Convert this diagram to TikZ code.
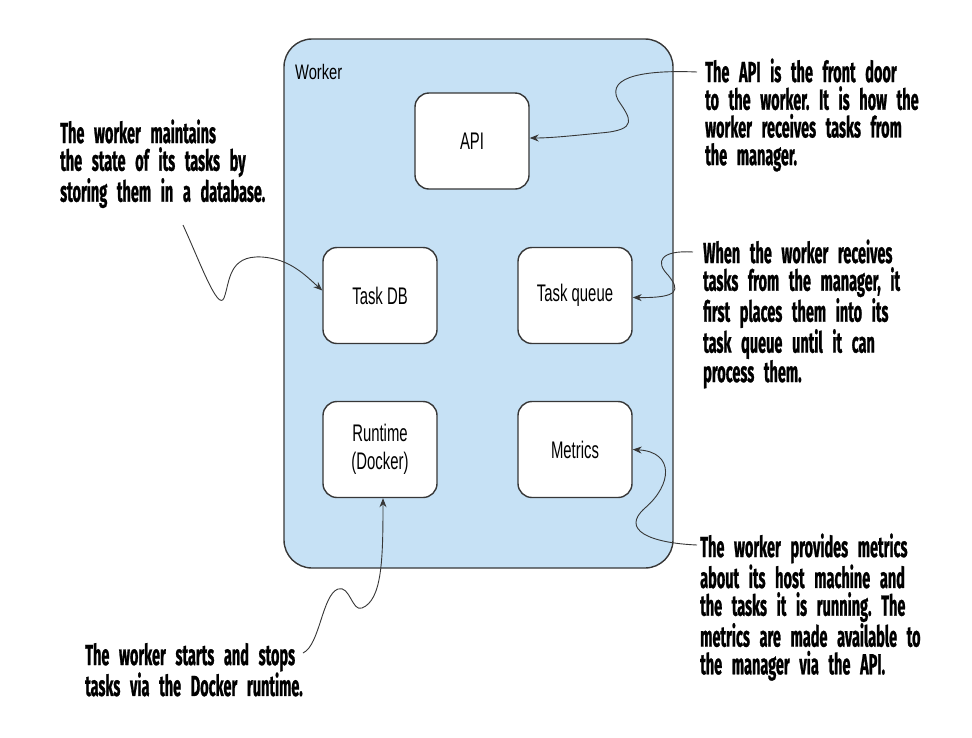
\documentclass[tikz,border=0pt]{standalone}
\usepackage{fontspec}
\newfontfamily\notefont[FakeStretch=0.5,FakeBold=0.8]{Fira Sans}
\newfontfamily\partfont[FakeStretch=0.62]{Liberation Sans}
\newfontfamily\framefont[FakeStretch=0.7]{Liberation Sans}
\newcommand\notespacing{\frenchspacing\spaceskip=5.5pt plus 1pt minus 1pt\relax}
\usetikzlibrary{shapes}
\usetikzlibrary{positioning}
\usetikzlibrary{arrows.meta}
\definecolor{workerblue}{RGB}{198,225,245}
\definecolor{edgegray}{RGB}{55,55,55}

\begin{document}
\begin{tikzpicture}[x=1pt,y=-1pt,>={Stealth[length=9pt,width=7pt]},
	part node/.style={rectangle,rounded corners=14pt,draw=edgegray,line width=1.4pt,fill=white,align=center,minimum width=114pt,minimum height=96pt,inner sep=0pt,font=\partfont\fontsize{24}{28}\selectfont},
	note node/.style={anchor=base west,inner sep=0pt,text width=260pt,align=left,font=\notefont\bfseries\fontsize{29}{27.7}\selectfont\notespacing},
	callout/.style={->,draw=edgegray,line width=0.9pt}]
		
		\useasboundingbox (0,0) rectangle (972,737);
		
		% worker frame
		\draw[fill=workerblue,draw=edgegray,line width=1.4pt,rounded corners=28pt] (284,39) rectangle (673,568);
		\node[anchor=base west,inner sep=0pt,font=\framefont\fontsize{21}{24}\selectfont] at (295,79) (worker) {Worker};
		
		\node[part node] at (472,141) (api) {API};
		\node[part node] at (380,295.5) (taskdb) {Task DB};
		\node[part node] at (575,295.5) (queue) {Task queue};
		\node[part node] at (380,449.5) (runtime) {Runtime\\(Docker)};
		\node[part node] at (575,449.5) (metrics) {Metrics};
		
		\node[note node] at (705,82) (apinote) {The API is the front door\\to the worker. It is how the\\worker receives tasks from\\the manager.};
		\node[note node] at (60,143) (dbnote) {The worker maintains\\the state of its tasks by\\storing them in a database.};
		\node[note node] at (703,263) (queuenote) {When the worker receives\\tasks from the manager, it\\first places them into its\\task queue until it can\\process them.};
		\node[note node] at (700,557) (metricsnote) {The worker provides metrics\\about its host machine and\\the tasks it is running. The\\metrics are made available to\\the manager via the API.};
		\node[note node] at (85,665) (runtimenote) {The worker starts and stops\\tasks via the Docker runtime.};
		
		\coordinate (apistart) at (697,72);
		\coordinate (dbstart) at (183,225);
		\coordinate (queuestart) at (693,252);
		\coordinate (metricsstart) at (697,545);
		\coordinate (runtimestart) at (303,653);
		
		\draw[callout] (apistart) .. controls (650,70) and (605,75) .. (618,100) .. controls (630,118) and (640,130) .. (600,133) .. controls (570,136) and (550,138) .. ([yshift=3pt]api.east);
		\draw[callout] (dbstart) .. controls (200,262) and (218,312) .. (224,298) .. controls (230,282) and (228,255) .. (262,257) .. controls (290,259) and (305,275) .. ([yshift=5pt]taskdb.west);
		\draw[callout] (queuestart) .. controls (660,250) and (655,262) .. (668,275) .. controls (680,290) and (680,298) .. ([yshift=-2pt]queue.east);
		\draw[callout] (metricsstart) .. controls (650,543) and (620,530) .. (645,508) .. controls (672,485) and (675,452) .. (metrics.east);
		\draw[callout] (runtimestart) .. controls (320,645) and (322,595) .. (338,589) .. controls (350,585) and (352,612) .. (362,608) .. controls (382,600) and (383,560) .. ([xshift=3pt]runtime.south);
		
\end{tikzpicture}
\end{document}
